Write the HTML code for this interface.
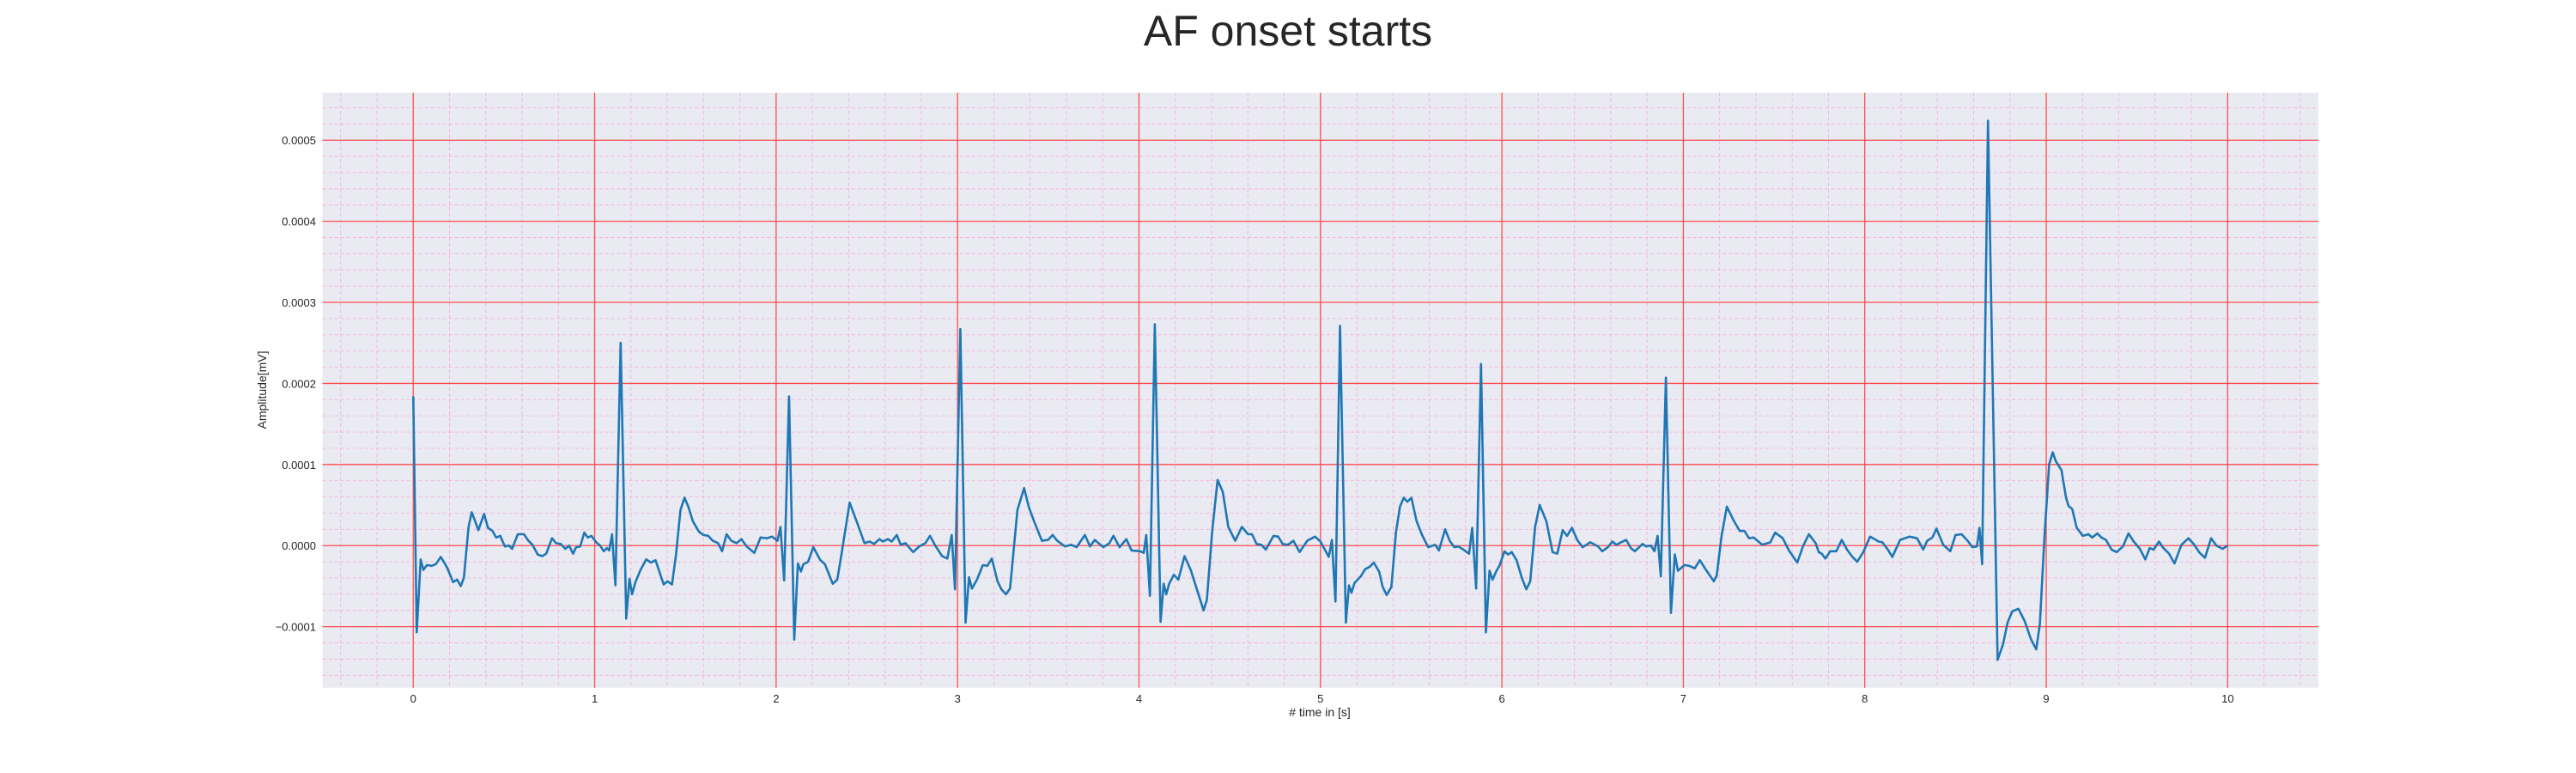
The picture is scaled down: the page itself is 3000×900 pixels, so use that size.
<!DOCTYPE html>
<html><head><meta charset="utf-8"><style>
body{margin:0;background:#fff;}
svg{display:block;font-family:"Liberation Sans",sans-serif;}
</style></head><body>
<svg id="chart" width="3000" height="900" viewBox="0 0 3000 900" xmlns="http://www.w3.org/2000/svg">
<text x="1500" y="53" text-anchor="middle" font-size="50" fill="#262626">AF onset starts</text>
<rect x="375.6" y="108" width="2324.4" height="692.7" fill="#eaeaf2"/>
<g id="grid"></g>
<g id="ticks"></g>
<path id="ecg" fill="none" stroke="#1f77b4" stroke-width="2.6" stroke-linejoin="round"/>
<text x="1537" y="834" text-anchor="middle" font-size="14" fill="#262626"># time in [s]</text>
<text x="0" y="0" transform="translate(310,454) rotate(-90)" text-anchor="middle" font-size="14" fill="#262626">Amplitude[mV]</text>
</svg>
<script>
const times = [0.0,0.019,0.041,0.056,0.076,0.102,0.124,0.152,0.186,0.220,0.242,0.262,0.279,0.305,0.322,0.335,0.359,0.390,0.412,0.437,0.457,0.479,0.505,0.528,0.545,0.576,0.610,0.635,0.657,0.686,0.711,0.733,0.765,0.787,0.813,0.838,0.859,0.881,0.898,0.920,0.943,0.962,0.982,1.008,1.030,1.050,1.067,1.080,1.096,1.114,1.143,1.174,1.192,1.206,1.223,1.253,1.284,1.310,1.335,1.358,1.380,1.402,1.426,1.448,1.473,1.495,1.516,1.541,1.575,1.600,1.626,1.651,1.680,1.702,1.727,1.753,1.782,1.809,1.838,1.880,1.914,1.948,1.978,2.007,2.024,2.044,2.071,2.100,2.120,2.137,2.150,2.176,2.205,2.244,2.269,2.312,2.337,2.362,2.405,2.447,2.487,2.515,2.540,
2.569,2.589,2.616,2.637,2.665,2.687,2.713,2.755,2.789,2.822,2.848,2.877,2.915,2.944,2.968,2.986,3.015,3.044,3.063,3.079,3.107,3.139,3.164,3.189,3.220,3.242,3.267,3.289,3.330,3.367,3.392,3.423,3.465,3.499,3.524,3.549,3.592,3.626,3.656,3.702,3.730,3.756,3.803,3.837,3.859,3.893,3.930,3.959,4.006,4.026,4.040,4.060,4.087,4.119,4.136,4.150,4.166,4.192,4.217,4.251,4.285,4.319,4.356,4.374,4.403,4.433,4.462,4.492,4.530,4.567,4.601,4.623,4.648,4.674,4.699,4.741,4.767,4.792,4.821,4.851,4.885,4.927,4.970,5.000,5.046,5.063,5.083,5.108,5.140,
5.157,5.171,5.188,5.222,5.247,5.272,5.294,5.323,5.343,5.365,5.391,5.416,5.438,5.459,5.479,5.501,5.530,5.560,5.594,5.632,5.653,5.687,5.712,5.738,5.759,5.788,5.819,5.836,5.858,5.885,5.912,5.932,5.949,5.970,5.986,6.014,6.034,6.054,6.081,6.110,6.135,6.156,6.183,6.208,6.245,6.279,6.305,6.335,6.359,6.386,6.415,6.445,6.487,6.530,6.553,6.584,6.609,6.631,6.657,6.685,6.711,6.733,6.775,6.795,6.821,6.841,6.858,6.876,6.904,6.932,6.953,6.970,7.007,7.032,7.063,7.091,7.125,7.168,7.184,7.210,7.240,7.277,7.311,7.337,7.362,7.387,7.435,7.480,7.506,7.548,7.582,7.628,7.659,7.692,7.729,7.746,7.763,7.783,7.809,7.843,7.873,7.902,7.932,7.958,7.992,
8.029,8.076,8.097,8.127,8.152,8.195,8.246,8.288,8.322,8.344,8.373,8.395,8.432,8.471,8.500,8.533,8.567,8.593,8.618,8.632,8.647,8.679,8.732,8.762,8.787,8.813,8.847,8.881,8.915,8.945,8.965,8.991,9.016,9.036,9.053,9.084,9.109,9.123,9.143,9.168,9.202,9.233,9.253,9.282,9.304,9.329,9.360,9.388,9.423,9.453,9.482,9.516,9.546,9.570,9.592,9.621,9.646,9.677,9.707,9.745,9.784,9.812,9.846,9.875,9.909,9.938,9.972,10.0];
const amplitudes = [18.4,-10.7,-1.7,-3.0,-2.4,-2.5,-2.3,-1.4,-2.7,-4.5,-4.2,-5.0,-4.0,2.3,4.1,3.4,1.9,3.9,2.2,1.8,1.0,1.2,-0.1,0,-0.4,1.4,1.4,0.6,0.1,-1.1,-1.3,-1.0,0.9,0.3,0.2,-0.4,0,-1.0,-0.2,-0.1,1.6,1.0,1.2,0.4,0,-0.7,-0.3,-0.6,1.4,-4.9,25.0,-9.0,-4.1,-6.0,-4.6,-3.0,-1.7,-2.1,-1.8,-3.3,-4.8,-4.4,-4.8,-1.2,4.4,5.9,4.8,3.0,1.7,1.3,1.2,0.6,0.3,-0.7,1.4,0.6,0.3,0.8,-0.1,-0.9,1.0,0.9,1.1,0.6,2.3,-4.3,18.4,-11.6,-2.2,-3.2,-2.3,-2.0,-0.2,-1.8,-2.3,-4.7,-4.2,-0.8,5.3,2.8,0.3,0.5,0.2,
0.8,0.5,0.8,0.5,1.3,0.1,0.3,-0.8,-0.1,0.3,1.2,0,-1.3,-1.6,1.3,-5.4,26.7,-9.5,-3.9,-5.3,-4.2,-2.4,-2.5,-1.6,-4.4,-5.4,-6.0,-5.3,4.4,7.1,4.8,2.9,0.6,0.7,1.3,0.6,-0.1,0.1,-0.2,1.3,-0.1,0.7,-0.2,0.3,1.2,-0.2,0.8,-0.6,-0.7,-0.9,1.3,-6.2,27.3,-9.4,-4.7,-6.0,-4.7,-3.6,-4.2,-1.3,-3.0,-5.4,-8.0,-6.7,1.6,8.1,6.6,2.3,0.6,2.3,1.4,1.4,0.2,0.1,-0.5,1.2,1.1,0.2,0.1,0.6,-0.8,0.6,1.1,0.5,-1.4,0.7,-6.9,27.1,-9.5,
-4.9,-5.8,-4.6,-3.8,-2.9,-2.6,-2.1,-3.2,-5.1,-6.1,-5.1,1.6,4.8,5.9,5.4,5.9,3.0,1.3,-0.2,0.1,-0.6,2.0,0.6,-0.2,-0.1,-0.5,-1.0,2.2,-5.3,22.4,-10.7,-3.1,-4.2,-3.1,-2.5,-0.7,-1.1,-0.8,-1.8,-4.0,-5.4,-4.4,2.3,5.0,3.0,-0.8,-1.0,1.9,1.2,2.2,0.7,-0.2,0.4,-0.1,-0.7,-0.2,0.5,0.1,0.4,0.7,-0.3,-0.7,0.2,-0.1,0,-0.7,1.2,-3.8,20.7,-8.3,-1.1,-3.1,-2.4,-2.5,-2.8,-1.8,-3.0,-4.4,-3.7,1.1,4.8,3.1,1.8,1.8,0.9,1.0,0.1,0.4,1.6,0.9,-0.6,-2.1,-0.1,1.4,0.3,-0.8,-1.0,-1.6,-0.7,-0.7,0.7,-0.5,-1.4,-2.0,-0.8,
1.1,0.5,0.4,-0.5,-1.4,0.7,1.1,0.9,-0.5,0.6,1.0,2.1,0.1,-0.7,1.3,1.4,0.6,-0.2,-0.1,2.2,-2.3,52.4,-14.1,-12.2,-9.5,-8.1,-7.8,-9.3,-11.5,-12.8,-9.7,1.3,10.0,11.5,10.4,9.3,5.9,4.9,4.5,2.2,1.2,1.4,1.0,1.5,1.0,0.7,-0.5,-0.8,-0.1,1.5,0.5,-0.4,-1.7,-0.3,-0.5,0.5,-0.3,-1.0,-2.2,0.1,0.9,0.2,-0.9,-1.5,0.9,0,-0.4,0];
const ampScale = 1e-5;
const xTickLabels = ["0","1","2","3","4","5","6","7","8","9","10"];
const yTickLabels = ["−0.0001","0.0000","0.0001","0.0002","0.0003","0.0004","0.0005"];
const yTickValues = [-0.0001,0,0.0001,0.0002,0.0003,0.0004,0.0005];

const L=375.6,R=2700,T=108,B=800.7;
const xMin=-0.5,xMax=10.5,yMin=-0.0001753,yMax=0.0005585;
const X=t=>L+(t-xMin)/(xMax-xMin)*(R-L);
const Y=v=>B-(v-yMin)/(yMax-yMin)*(B-T);
const NS="http://www.w3.org/2000/svg";
const grid=document.getElementById('grid'), ticks=document.getElementById('ticks');
function line(x1,y1,x2,y2,stroke,w,dash){const l=document.createElementNS(NS,'line');l.setAttribute('x1',x1);l.setAttribute('y1',y1);l.setAttribute('x2',x2);l.setAttribute('y2',y2);l.setAttribute('stroke',stroke);l.setAttribute('stroke-width',w);if(dash)l.setAttribute('stroke-dasharray',dash);return l;}
for(let i=-2;i<=52;i++){const t=i*0.2;if(t<xMin||t>xMax||i%5===0)continue;const l=line(X(t),T,X(t),B,'#f3b3de',0.9,'4,3');


grid.appendChild(l);}
for(let i=-9;i<=28;i++){const v=i*0.00002;if(v<yMin||v>yMax||i%5===0)continue;const l=line(L,Y(v),R,Y(v),'#f3b3de',0.9,'4,3');


grid.appendChild(l);}
xTickLabels.forEach(s=>{const t=+s;const l=line(X(t),T,X(t),B,'#ff4d4d',1.3);


grid.appendChild(l);
const tx=document.createElementNS(NS,'text');tx.setAttribute('x',X(t));tx.setAttribute('y',818);tx.setAttribute('text-anchor','middle');tx.setAttribute('font-size','13');tx.setAttribute('fill','#262626');tx.textContent=s;


ticks.appendChild(tx);});
yTickValues.forEach((v,i)=>{const l=line(L,Y(v),R,Y(v),'#ff4d4d',1.3);


grid.appendChild(l);
const tx=document.createElementNS(NS,'text');tx.setAttribute('x',368);tx.setAttribute('y',Y(v)+5);tx.setAttribute('text-anchor','end');tx.setAttribute('font-size','13');tx.setAttribute('fill','#262626');tx.textContent=yTickLabels[i];


ticks.appendChild(tx);});
let d='';times.forEach((t,i)=>{d+=(i?'L':'M')+X(t).toFixed(1)+','+Y(amplitudes[i]*ampScale).toFixed(1);});
document.getElementById('ecg').setAttribute('d',d);
</script>
</body></html>
